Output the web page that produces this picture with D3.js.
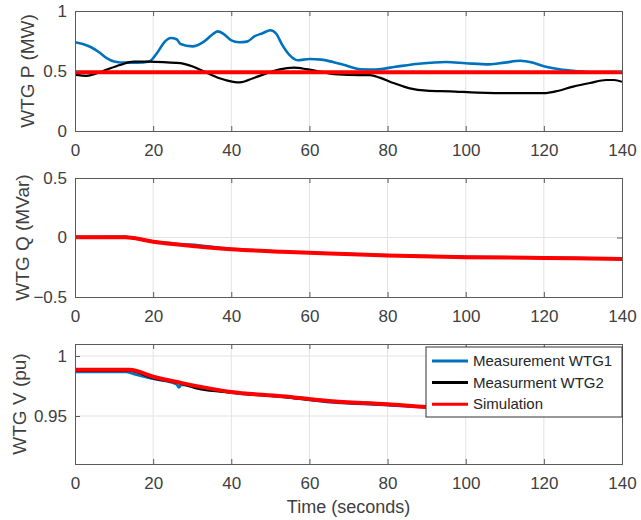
<!DOCTYPE html>
<html>
<head>
<meta charset="utf-8">
<script src="https://cdn.jsdelivr.net/npm/d3@7"></script>
<style>
  html, body { margin: 0; padding: 0; background: #fff; }
  svg { display: block; font-family: "Liberation Sans", Arial, sans-serif; }
</style>
</head>
<body>
<svg id="chart" width="641" height="520"></svg>
<script>
// ---- data: time (s) and value pairs for each trace ----
const timeTicks = [0, 20, 40, 60, 80, 100, 120, 140];

// Active power P (MW)
const pWtg1 = [[0,0.74],[2,0.725],[4,0.70],[6,0.66],[8,0.61],[10,0.58],[13,0.57],[16,0.57],[19,0.58],[21,0.65],[23,0.745],[24.5,0.775],[26,0.765],[27,0.725],[30,0.705],[33,0.745],[35,0.80],[36.5,0.83],[38,0.81],[40,0.755],[42,0.74],[44,0.745],[46,0.79],[48,0.815],[50,0.84],[51.5,0.81],[53,0.72],[55,0.63],[57,0.59],[60,0.60],[63,0.595],[66,0.575],[69,0.55],[73,0.515],[77,0.513],[82,0.535],[88,0.56],[95,0.575],[100,0.565],[106,0.555],[110,0.57],[114,0.585],[117,0.57],[120,0.54],[124,0.515],[128,0.50],[132,0.49],[140,0.49]];
const pWtg2 = [[0,0.467],[3,0.46],[5.5,0.48],[8,0.51],[11.5,0.55],[15,0.578],[19,0.578],[23.5,0.572],[27,0.565],[30.3,0.535],[33.7,0.486],[37,0.44],[40.5,0.41],[42.2,0.405],[45.6,0.44],[49,0.48],[52.4,0.514],[56,0.528],[59.3,0.515],[62.7,0.495],[65.3,0.477],[70,0.467],[75.5,0.465],[78,0.445],[81.5,0.40],[85.7,0.355],[90,0.336],[96,0.33],[103,0.32],[111,0.315],[120,0.315],[123,0.33],[127.5,0.37],[131.8,0.40],[136,0.425],[138,0.425],[140,0.41]];
const pSim = [[0,0.49],[140,0.49]];
const pTicks = [0, 0.5, 1];

// Reactive power Q (MVar)
const qWtg1 = [[0,0.005],[13,0.006],[15,-0.004],[20,-0.033],[26.5,-0.055],[27,-0.063],[27.5,-0.058],[40,-0.096],[53,-0.118],[60,-0.128],[80,-0.149],[100,-0.163],[120,-0.170],[140,-0.178]];
const qWtg2 = [[0,0.004],[13,0.005],[15,-0.005],[20,-0.034],[27,-0.060],[40,-0.097],[53,-0.119],[60,-0.129],[80,-0.150],[100,-0.164],[120,-0.171],[140,-0.179]];
const qSim = [[0,0.003],[13,0.003],[15,-0.005],[20,-0.035],[27,-0.060],[40,-0.098],[53,-0.120],[65,-0.134],[80,-0.151],[100,-0.165],[120,-0.172],[140,-0.180]];
const qTicks = [-0.5, 0, 0.5];

// Terminal voltage V (pu)
const vWtg1 = [[0,0.9868],[13,0.9868],[15,0.985],[19.6,0.9812],[26,0.9765],[26.6,0.9738],[27.2,0.976],[32,0.9735],[40.5,0.9693],[53,0.966],[65,0.9615],[80,0.959],[100,0.9555],[120,0.9535],[140,0.952]];
const vWtg2 = [[0,0.9875],[14,0.9875],[19.6,0.9818],[27,0.977],[32,0.9724],[40.5,0.9695],[53,0.966],[65,0.962],[80,0.9592],[100,0.9557],[120,0.9537],[140,0.9522]];
const vSim = [[0,0.9885],[14,0.9885],[20,0.9827],[27,0.9777],[40,0.970],[53,0.9665],[65,0.9625],[80,0.9598],[90,0.9575],[100,0.956],[120,0.954],[140,0.9525]];
const vTicks = [0.95, 1];

const legendLabels = ["Measurement WTG1", "Measurment WTG2", "Simulation"];
const seriesColors = ["#0072BD", "#000000", "#FF0000"];
const seriesWidths = [2.6, 2.2, 4];

// ---- layout ----
const svg = d3.select("#chart");
const left = 75, right = 622;
const panels = [
  { top: 11,  bottom: 131, domain: [0, 1],       ticks: pTicks, label: "WTG P (MW)",   labelX: 34,   series: [pWtg1, pWtg2, pSim] },
  { top: 178, bottom: 297, domain: [-0.5, 0.5],  ticks: qTicks, label: "WTG Q (MVar)", labelX: 29,   series: [qWtg1, qWtg2, qSim] },
  { top: 344, bottom: 464, domain: [0.91, 1.01], ticks: vTicks, label: "WTG V (pu)",   labelX: 25.5, series: [vWtg1, vWtg2, vSim] }
];

const x = d3.scaleLinear().domain([0, 140]).range([left, right]);
const textColor = "#404040";
const gridColor = "#e3e3e3";
const axisColor = "#5a5a5a";

panels.forEach((p, i) => {
  const y = d3.scaleLinear().domain(p.domain).range([p.bottom, p.top]);
  const g = svg.append("g");
  const clipId = "clip" + i;
  svg.append("clipPath").attr("id", clipId)
    .append("rect").attr("x", left).attr("y", p.top).attr("width", right - left).attr("height", p.bottom - p.top);

  // grid
  g.append("g").selectAll("line").data(timeTicks.slice(1, -1)).join("line")
    .attr("x1", d => x(d)).attr("x2", d => x(d)).attr("y1", p.top).attr("y2", p.bottom)
    .attr("stroke", gridColor).attr("stroke-width", 1);
  g.append("g").selectAll("line").data(p.ticks.filter(t => y(t) > p.top + 1 && y(t) < p.bottom - 1)).join("line")
    .attr("x1", left).attr("x2", right).attr("y1", d => y(d)).attr("y2", d => y(d))
    .attr("stroke", gridColor).attr("stroke-width", 1);

  // traces
  const line = d3.line().x(d => x(d[0])).y(d => y(d[1])).curve(d3.curveMonotoneX);
  const lg = g.append("g").attr("clip-path", `url(#${clipId})`);
  p.series.forEach((s, k) => {
    lg.append("path").datum(s).attr("d", line)
      .attr("fill", "none").attr("stroke", seriesColors[k])
      .attr("stroke-width", seriesWidths[k]).attr("stroke-linejoin", "round");
  });

  // axes (ticks point inward, box on all sides)
  const xb = d3.axisBottom(x).tickValues(timeTicks).tickSize(-5).tickPadding(13).tickFormat(d3.format("d"));
  const xt = d3.axisTop(x).tickValues(timeTicks).tickSize(-5).tickFormat("");
  const yl = d3.axisLeft(y).tickValues(p.ticks).tickSize(-5).tickPadding(8).tickFormat(d3.format(""));
  const yr = d3.axisRight(y).tickValues(p.ticks).tickSize(-5).tickFormat("");

  [[xb, `translate(0,${p.bottom})`], [xt, `translate(0,${p.top})`], [yl, `translate(${left},0)`], [yr, `translate(${right},0)`]].forEach(([ax, tr]) => {
    const a = g.append("g").attr("transform", tr).call(ax);
    a.select(".domain").attr("stroke", axisColor).attr("stroke-width", 1);
    a.selectAll(".tick line").attr("stroke", axisColor);
    a.selectAll(".tick text").attr("fill", textColor).style("font-size", "17px");
  });

  // y label
  svg.append("text")
    .attr("transform", `translate(${p.labelX},${(p.top + p.bottom) / 2}) rotate(-90)`)
    .attr("text-anchor", "middle").attr("fill", textColor)
    .style("font-size", "19px").text(p.label);
});

// x label
svg.append("text").attr("x", (left + right) / 2).attr("y", 513)
  .attr("text-anchor", "middle").attr("fill", textColor)
  .style("font-size", "18px").text("Time (seconds)");

// legend in the voltage panel
const lgd = svg.append("g").attr("transform", "translate(426,347)");
lgd.append("rect").attr("width", 196).attr("height", 70)
  .attr("fill", "#fff").attr("stroke", "#333").attr("stroke-width", 1);
legendLabels.forEach((name, k) => {
  const yy = 14 + k * 21.6;
  lgd.append("line").attr("x1", 6).attr("x2", 42).attr("y1", yy).attr("y2", yy)
    .attr("stroke", seriesColors[k]).attr("stroke-width", 3);
  lgd.append("text").attr("x", 47).attr("y", yy).attr("dy", "0.35em")
    .attr("fill", "#262626").style("font-size", "15px").text(name);
});
</script>
</body>
</html>
